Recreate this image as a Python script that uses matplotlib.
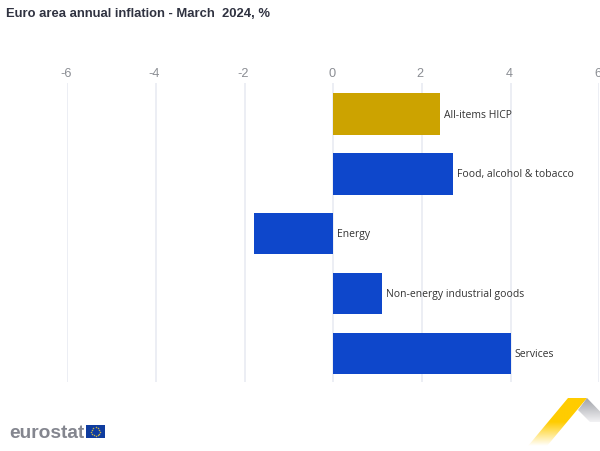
import numpy as np
import matplotlib
matplotlib.use("Agg")
import matplotlib.pyplot as plt
from matplotlib.patches import Polygon, Rectangle
from matplotlib.colors import LinearSegmentedColormap

categories = ["All-items HICP", "Food, alcohol & tobacco", "Energy",
              "Non-energy industrial goods", "Services"]
values = [2.4, 2.7, -1.8, 1.1, 4.0]
bar_colors = ["#cca300", "#0e47cb", "#0e47cb", "#0e47cb", "#0e47cb"]
ticks = [-6, -4, -2, 0, 2, 4, 6]
title = "Euro area annual inflation - March  2024, %"

W, H = 600, 452
fig = plt.figure(figsize=(W / 100, H / 100), dpi=100, facecolor="white")

# main axes
x0, x1, y0, y1 = 67.3, 599.3, 84, 383
ax = fig.add_axes([x0 / W, 1 - y1 / H, (x1 - x0) / W, (y1 - y0) / H])
ax.set_xlim(-6, 6)
ax.set_ylim(4.48, -0.52)
for s in ax.spines.values():
    s.set_visible(False)
ax.xaxis.tick_top()
ax.set_xticks(ticks)
ax.set_xticklabels([])
ax.tick_params(axis="x", length=0)
ax.set_yticks([])
ax.patch.set_alpha(0)
ax.grid(axis="x", color="#eceef4", lw=1.4)
ax.set_axisbelow(True)

# tick labels sit about 1.5 px left of their gridlines in the reference
for t in ticks:
    ax.annotate(str(t), (t, 1), xycoords=("data", "axes fraction"),
                xytext=(-1.2, 3.2), textcoords="offset points", ha="center", va="bottom",
                family="Liberation Sans", fontsize=9.2, color="#8a8d93", annotation_clip=False)

ypos = np.arange(len(values))
ax.barh(ypos, values, height=0.695, color=bar_colors, edgecolor="none", zorder=3)
for y, v, c in zip(ypos, values, categories):
    ax.annotate(c, (max(v, 0), y), xytext=(3.0, 0), textcoords="offset points",
                va="center", ha="left", family="Open Sans", fontsize=7.5,
                color="#333333", zorder=4)

fig.text(5.5 / W, 1 - 14 / H, title, family="Liberation Sans", weight="bold",
         fontsize=9.4, color="#2f3240", va="center", ha="left")

# overlay in pixel coordinates: logo and decoration
ov = fig.add_axes([0, 0, 1, 1], zorder=5)
ov.set_xlim(0, W)
ov.set_ylim(H, 0)
ov.axis("off")
ov.patch.set_alpha(0)

ov.text(9, 433.5, "eurostat", family="Liberation Sans", weight="bold",
        fontsize=13.8, color="#84868f", va="center", ha="left")
ov.add_patch(Rectangle((86, 426), 19.3, 13.2, fc="#0f3c9f", ec="none"))
ang = np.arange(12) * np.pi / 6
ov.scatter(95.6 + 4.2 * np.cos(ang), 432.6 + 4.2 * np.sin(ang), s=1.2, c="#c9b54a", lw=0)

yy = np.linspace(0, 1, 128).reshape(-1, 1)
ycm = LinearSegmentedColormap.from_list("y", ["#ffcc00", "#ffcc00", "#ffffff"])
im = ov.imshow(yy, extent=(525, 590, 447, 399), cmap=ycm, aspect="auto", zorder=1)
im.set_clip_path(Polygon([(568, 399), (587, 399), (547, 447), (528, 447)],
                         transform=ov.transData))
gcm = LinearSegmentedColormap.from_list("g", ["#a0a2a8", "#f2f2f4"])
im2 = ov.imshow(yy, extent=(578, 602, 423, 399), cmap=gcm, aspect="auto", zorder=1)
im2.set_clip_path(Polygon([(587, 399), (600, 412.5), (600, 423), (590, 423), (578, 411)],
                          transform=ov.transData))
ov.set_xlim(0, W)
ov.set_ylim(H, 0)

fig.savefig("out.png", dpi=100, facecolor="white")
